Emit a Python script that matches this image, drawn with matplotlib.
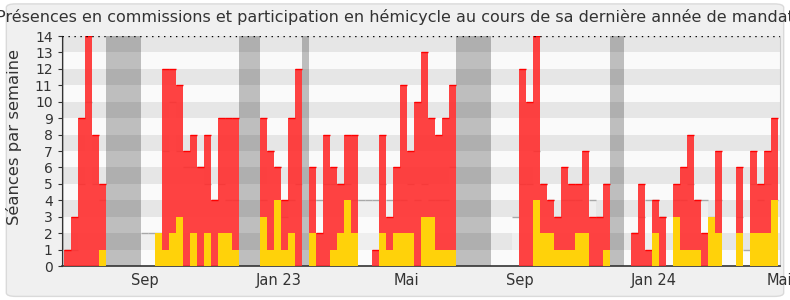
import numpy as np
import matplotlib
matplotlib.use("Agg")
import matplotlib.pyplot as plt
from matplotlib.patches import FancyBboxPatch

# weekly values, one entry per week (102 weeks, June 2022 -> May 2024)
hemicycle = [1, 3, 9, 14, 8, 5, 0, 0, 0, 0, 0, 0, 0, 0, 12, 12, 11, 7, 8, 6,
             8, 4, 9, 9, 9, 0, 0, 0, 9, 7, 6, 4, 9, 12, 0, 6, 2, 8, 6, 5,
             8, 8, 0, 0, 1, 8, 3, 6, 11, 7, 10, 13, 9, 8, 9, 11, 0, 0, 0, 0,
             0, 0, 0, 0, 0, 12, 10, 14, 5, 4, 3, 6, 5, 5, 7, 3, 3, 5, 0, 0,
             0, 2, 5, 1, 4, 3, 0, 5, 6, 8, 4, 2, 0, 7, 0, 0, 6, 0, 7, 5,
             7, 9]
commission = [0, 0, 0, 0, 0, 1, 0, 0, 0, 0, 0, 0, 0, 2, 1, 2, 3, 0, 2, 0,
              2, 0, 2, 2, 1, 0, 0, 0, 3, 1, 4, 1, 2, 0, 0, 2, 0, 0, 1, 2,
              4, 2, 0, 0, 0, 2, 1, 2, 2, 2, 0, 3, 3, 1, 1, 1, 0, 0, 0, 0,
              0, 0, 0, 0, 0, 0, 0, 4, 2, 2, 1, 1, 1, 2, 2, 0, 0, 1, 0, 0,
              0, 0, 0, 0, 2, 0, 0, 3, 1, 1, 1, 0, 3, 2, 0, 0, 2, 0, 2, 2,
              2, 4]
mediane = [1, 1, 5, 10, 5, 4, 0, 0, 0, 0, 0, 2, 2, 2, 7, 10, 7, 6, 6, 6,
           5, 4, 5, 4, 4, 0, 0, 0, 4, 7, 6, 3, 4, 5, 0, 4, 4, 5, 5, 5,
           5, 4, 4, 4, 4, 5, 4, 4, 4, 5, 4, 5, 4, 4, 4, 6, 0, 0, 0, 0,
           0, 0, 0, 0, 3, 5, 5, 7, 5, 4, 3, 4, 4, 4, 5, 4, 3, 5, 0, 0,
           0, 2, 3, 4, 4, 3, 0, 4, 4, 5, 4, 4, 3, 4, 0, 0, 3, 1, 5, 4,
           5, 4]
# parliamentary breaks (first week, last week)
vacances = [(-1, -1), (6, 10), (25, 27), (34, 34), (56, 60), (78, 79)]
mois_pos = [11.6, 30.7, 49.0, 65.1, 84.3, 102.3]
mois_labels = ["Sep", "Jan 23", "Mai", "Sep", "Jan 24", "Mai"]

weeks = np.arange(len(hemicycle))
hemicycle = np.array(hemicycle)
commission = np.array(commission)
mediane = np.array(mediane)

fig = plt.figure(figsize=(7.9, 3), dpi=100, facecolor="white")
fig.patches.append(FancyBboxPatch((0.008, 0.012), 0.984, 0.975,
                                  boxstyle="round,pad=0,rounding_size=0.012",
                                  transform=fig.transFigure, facecolor="#f0f0f0",
                                  edgecolor="#dadada", lw=1, zorder=-5))
ax = fig.add_axes([0.078, 0.113, 0.909, 0.767])
ax.set_facecolor("#fafafa")

for k in range(1, 14, 2):
    ax.axhspan(k, k + 1, color="#e6e6e6", lw=0, zorder=0)

for a, b in vacances:
    ax.axvspan(a, b + 1, color="black", alpha=0.24, lw=0, zorder=1)

# median of all deputies
ax.bar(weeks, mediane, width=1, align="edge", color="white", alpha=0.4, lw=0, zorder=2)
m = mediane > 0
ax.hlines(mediane[m], weeks[m], weeks[m] + 1, color="#a8a8a8", lw=1, zorder=2.5)

ax.bar(weeks, hemicycle, width=1, align="edge", color="#ff2e2e", alpha=0.9, lw=0, zorder=3)
h = hemicycle > 0
ax.hlines(hemicycle[h], weeks[h], weeks[h] + 1, color="#ff0000", lw=1, zorder=3.5)
ax.bar(weeks, commission, width=1, align="edge", color="#ffd20a", lw=0, zorder=4)

ax.axhline(14, color="black", ls=(0, (1, 3.3)), lw=1, zorder=5)

ax.set_xlim(-0.35, 101.57)
ax.set_ylim(0, 14)
ax.set_yticks(range(0, 15))
ax.tick_params(axis="y", labelsize=10, colors="#333333", length=3, width=0.8)
ax.set_xticks(mois_pos)
ax.set_xticklabels(mois_labels)
ax.tick_params(axis="x", labelsize=10.5, colors="#333333", length=0, pad=5)

ax.spines["top"].set_visible(False)
ax.spines["right"].set_color("#cccccc")
ax.spines["left"].set_color("#333333")
ax.spines["bottom"].set_color("#333333")
ax.spines["bottom"].set_linewidth(1.2)

ax.set_ylabel("Séances par semaine", fontsize=11.8, color="#333333")
ax.yaxis.set_label_coords(-0.055, 0.56)

fig.text(0.5, 0.943, "Présences en commissions et participation en hémicycle au cours de sa dernière année de mandat",
         ha="center", va="center", fontsize=11.55, color="#333333")

fig.savefig("out.png", dpi=100)
